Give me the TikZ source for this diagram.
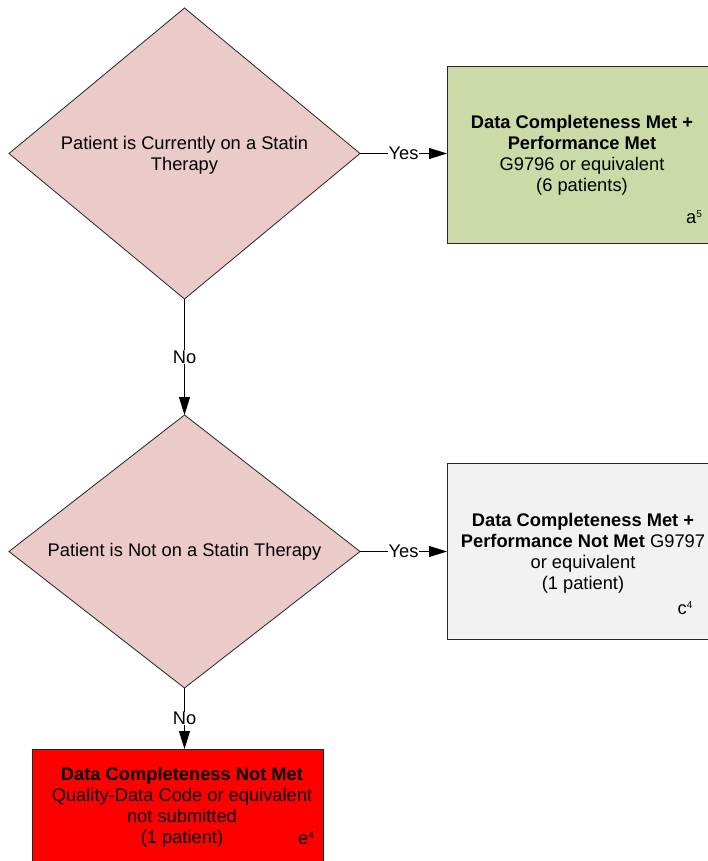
\documentclass[tikz,border=0pt]{standalone}
\usepackage{fontspec}
\setmainfont{Liberation Sans}
\usetikzlibrary{shapes.geometric,arrows.meta}
\definecolor{pinkc}{HTML}{EBCBCA}
\definecolor{greenc}{HTML}{CCDAA8}
\definecolor{grayc}{HTML}{F2F2F2}
\definecolor{redc}{HTML}{FF0000}
\newcommand{\supr}[1]{\raisebox{0.6ex}{\fontsize{10}{10}\selectfont #1}}
\begin{document}
\begin{tikzpicture}[x=1pt,y=-1pt,
  every node/.style={font=\fontsize{18.3}{21}\selectfont},
  dec/.style={diamond, draw=black!85, fill=pinkc, line width=0.8pt, inner sep=0pt, outer sep=0pt, align=center},
  box/.style={rectangle, draw=black!85, line width=0.8pt, inner sep=0pt, outer sep=0pt, anchor=north west},
  txt/.style={align=center, inner sep=0pt},
  arr/.style={-{Triangle[length=18pt,width=11pt]}, line width=0.8pt, draw=black},
  lab/.style={fill=white, inner sep=0.6pt}]
\useasboundingbox (0,0) rectangle (707,861);

% decisions
\node[dec, minimum width=351, minimum height=291] (d1) at (184.5,153.5) {};
\node[txt] (t1) at (184.5,155) {Patient is Currently on a Statin\\Therapy};
\node[dec, minimum width=351, minimum height=273] (d2) at (184.5,551.5) {};
\node[txt] (t2) at (184.5,552) {Patient is Not on a Statin Therapy};

% outcome boxes
\node[box, fill=greenc, minimum width=270, minimum height=177] (g) at (447,66) {};
\node[txt] (gt) at (582,155.5) {\textbf{Data Completeness Met +}\\\textbf{Performance Met}\\G9796 or equivalent\\(6 patients)};
\node[txt] (ga) at (694,217) {a\supr{5}};

\node[box, fill=grayc, minimum width=270, minimum height=176] (c) at (447,463) {};
\node[txt] (ct) at (583,553) {\textbf{Data Completeness Met +}\\\textbf{Performance Not Met} G9797\\or equivalent\\(1 patient)};
\node[txt] (ca) at (685,608) {c\supr{4}};

\node[box, fill=redc, minimum width=291, minimum height=140] (e) at (32,749) {};
\node[txt] (et) at (182,807) {\textbf{Data Completeness Not Met}\\Quality-Data Code or equivalent\\not submitted\\(1 patient)};
\node[txt] (ea) at (306,838) {e\supr{4}};

% connectors
\draw[arr] (d1.east) -- node[lab] {Yes} (d1.east -| g.west);
\draw[arr] (d1.south) -- node[lab] {No} (d2.north);
\draw[arr] (d2.east) -- node[lab] {Yes} (d2.east -| c.west);
\draw[arr] (d2.south) -- node[lab] {No} (d2.south |- e.north);
\end{tikzpicture}
\end{document}
